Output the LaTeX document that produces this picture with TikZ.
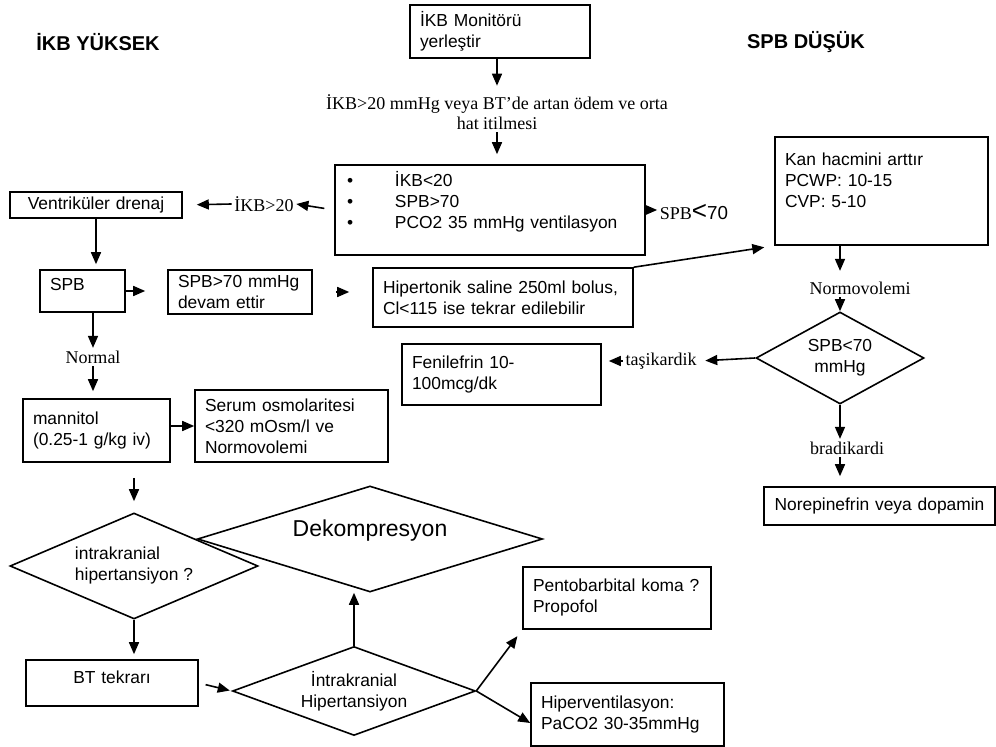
\documentclass[tikz,border=0pt]{standalone}
\usepackage{fontspec}
\setmainfont{Liberation Serif}
\setsansfont{Liberation Sans}
\usetikzlibrary{arrows.meta,positioning,shapes.geometric}
\newcommand\itembul{\makebox[25pt][l]{\hspace{1pt}\textbullet}}

\begin{document}
\begin{tikzpicture}[x=0.5pt,y=-0.5pt,line width=0.8pt,
    >={Triangle[length=6pt,width=5pt]},
    box/.style={draw,align=left,inner xsep=5pt,inner ysep=1.5pt,
                font=\sffamily\fontsize{8.7}{10.5}\selectfont},
    cbox/.style={box,align=center},
    dec/.style={draw,diamond,aspect=2.5,inner sep=0pt,align=left,
                font=\sffamily\fontsize{8.7}{10.5}\selectfont},
    lbl/.style={inner sep=1pt,font=\rmfamily\fontsize{9}{10}\selectfont},
    ttl/.style={font=\sffamily\bfseries\fontsize{10}{12}\selectfont}]
  \path[use as bounding box,fill=white] (0,0) rectangle (996,747);

  \node[ttl] (hightitle) at (98,42) {İKB YÜKSEK};
  \node[ttl] (lowtitle)  at (806,42) {SPB DÜŞÜK};

  % top of the flow
  \node[box,text width=80pt,minimum height=26.5pt] (monitor) at (500,31.5)
       {İKB Monitörü\\yerleştir};
  \node[lbl,align=center] (trigger) at (497,112)
       {İKB>20 mmHg veya BT’de artan ödem ve orta\\hat itilmesi};
  \node[box,text width=145pt,minimum height=45pt] (targets) at (490,210)
       {\itembul İKB<20\\\itembul SPB>70\\\itembul PCO2 35 mmHg ventilasyon\\\mbox{}};

  % left branch
  \node[lbl] (icphigh) at (264,204) {İKB>20};
  \node[cbox,text width=76pt,minimum height=13pt] (drain) at (96,205)
       {Ventriküler drenaj};
  \node[box,text width=32.5pt,minimum height=21pt,text depth=7pt] (cpp)
       at (82.5,291) {SPB};
  \node[box,text width=62pt,minimum height=22pt] (cppkeep) at (240,292)
       {SPB>70 mmHg\\devam ettir};
  \node[box,text width=120pt,minimum height=29.5pt] (saline) at (503,297.5)
       {Hipertonik saline 250ml bolus,\\Cl<115 ise tekrar edilebilir};
  \node[lbl] (normal) at (93,357) {Normal};
  \node[box,text width=63.5pt,minimum height=31.5pt] (mannitol) at (96.5,430.5)
       {mannitol\\(0.25-1 g/kg iv)};
  \node[box,text width=86.5pt,minimum height=36pt] (osmol) at (291.5,426)
       {Serum osmolaritesi\\<320 mOsm/l ve\\Normovolemi};
  \node[dec,minimum width=124pt,minimum height=53pt] (icpq) at (134,566)
       {intrakranial\\hipertansiyon ?};
  \node[dec,minimum width=172.5pt,minimum height=53pt,text depth=11pt,
        font=\sffamily\fontsize{11.5}{13}\selectfont] (decomp) at (370,539)
       {Dekompresyon};
  \node[cbox,text width=76pt,minimum height=23pt,text depth=6pt] (ctrep)
       at (112,683) {BT tekrarı};
  \node[dec,align=center,minimum width=121.5pt,minimum height=44.5pt] (icp)
       at (354,691) {İntrakranial\\Hipertansiyon};
  \node[box,text width=84pt,minimum height=31pt] (barb) at (617,598)
       {Pentobarbital koma ?\\Propofol};
  \node[box,text width=86.5pt,minimum height=31.5pt] (hypervent) at (627.5,714.5)
       {Hiperventilasyon:\\PaCO2 30-35mmHg};

  % right branch
  \node[lbl] (cpplow) at (694,212)
       {SPB{\sffamily\fontsize{13}{13}\selectfont<}{\sffamily\fontsize{9.4}{10}\selectfont 70}};
  \node[box,text width=96.5pt,minimum height=54pt] (volume) at (881.5,191)
       {Kan hacmini arttır\\PCWP: 10-15\\CVP: 5-10\\\mbox{}};
  \node[lbl] (normovol) at (860,288) {Normovolemi};
  \node[dec,align=center,minimum width=84pt,minimum height=46pt] (cppq)
       at (840,358) {SPB<70\\mmHg};
  \node[lbl] (tachy) at (661,361) {taşikardik};
  \node[box,text width=89.5pt,minimum height=30.5pt] (phenyl) at (501.5,374.5)
       {Fenilefrin 10-\\100mcg/dk};
  \node[lbl] (brady) at (847,448) {bradikardi};
  \node[cbox,text width=105.5pt,minimum height=19pt] (norepi) at (879.5,506)
       {Norepinefrin veya dopamin};

  % connectors
  \draw[->,shorten >=3pt] (monitor.south -| trigger) -- (trigger.north);
  \draw[->,shorten >=5pt] (trigger.south) -- (targets.north -| trigger.south);
  \draw[->,shorten <=5pt] (targets.west) -- (icphigh.east);
  \draw[->,shorten >=7pt] (icphigh.west) -- (drain.east);
  \draw[->,shorten >=2.5pt] (drain.south) -- (cpp.north -| drain.south);
  \draw[->,shorten >=11pt] (cpp.east) -- (cpp.east -| cppkeep.west);
  \draw[->,shorten <=11.5pt,shorten >=11.5pt] (cppkeep.east) -- (cppkeep.east -| saline.west);
  \draw[->,shorten >=5pt] (saline.north east) -- (volume.south west);
  \draw[->] (targets.east) -- (targets.east -| cpplow.west);
  \draw[->] (cpp.south -| normal) -- (normal.north);
  \draw[->,shorten >=3.5pt] (normal.south) -- (normal.south |- mannitol.north);
  \draw[->] (mannitol.east |- osmol.west) -- (osmol.west);
  \draw[->,shorten <=7.5pt,shorten >=5.5pt] (icpq.north |- mannitol.south) -- (icpq.north);
  \draw[->,shorten >=2.5pt] (icpq.south) -- (icpq.south |- ctrep.north);
  \draw[->,shorten <=3.5pt,shorten >=1pt] (ctrep.east) -- (icp.west);
  \draw[->] (icp.north) -- (icp.north |- decomp.south);
  \draw[->,shorten >=4pt] (icp.east) -- (barb.south west);
  \draw[->] (icp.east) -- (hypervent.185);
  \draw[->,shorten >=4pt] (cppq.north |- volume.south) -- (cppq.north |- normovol.north);
  \draw[->] (cppq.north |- normovol.south) -- (cppq.north);
  \draw[->,shorten >=3pt] (cppq.west) -- (tachy.east);
  \draw[->,shorten >=3.5pt] (tachy.west) -- (tachy.west -| phenyl.east);
  \draw[->] (cppq.south) -- (cppq.south |- brady.north);
  \draw[->,shorten >=5pt] (cppq.south |- brady.south) -- (cppq.south |- norepi.north);
\end{tikzpicture}
\end{document}
